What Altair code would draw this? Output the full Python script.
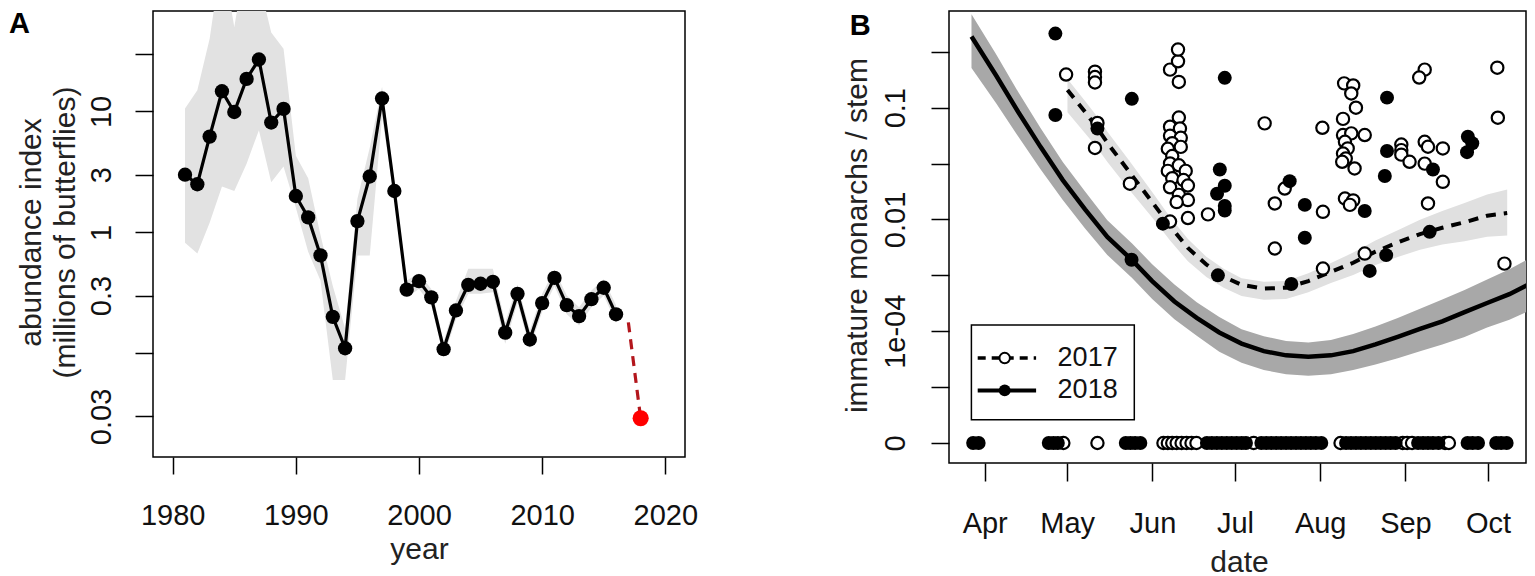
import altair as alt
import pandas as pd

FONT = "Liberation Sans"

# ---------------- Panel A data ----------------
years = list(range(1981, 2017))
abundance = [3.0, 2.5, 6.2, 14.7, 9.9, 18.6, 26.9, 8.1, 10.5, 2.0, 1.33, 0.645, 0.20, 0.11,
             1.24, 2.9, 12.8, 2.2, 0.336, 0.395, 0.29, 0.108, 0.226, 0.368, 0.376, 0.39,
             0.148, 0.31, 0.13, 0.26, 0.42, 0.25, 0.203, 0.28, 0.348, 0.21]
band_lo = [0.82, 0.67, 1.2, 2.4, 2.2, 3.7, 7.0, 2.6, 3.5, 1.6, 0.69, 0.40, 0.06, 0.06,
           0.645, 0.645, 9.0, 1.9, 0.29, 0.34, 0.25, 0.093, 0.19, 0.31, 0.31, 0.32,
           0.12, 0.26, 0.11, 0.22, 0.36, 0.21, 0.17, 0.24, 0.30, 0.18]
band_hi = [10.6, 15, 40, 200, 50, 200, 120, 45, 33, 4.3, 2.8, 0.95, 0.36, 0.16,
           1.9, 5.0, 16, 2.6, 0.40, 0.46, 0.34, 0.125, 0.27, 0.50, 0.50, 0.50,
           0.18, 0.37, 0.155, 0.31, 0.49, 0.30, 0.24, 0.33, 0.41, 0.25]
proj_years = [2017, 2018]
proj_vals = [0.18, 0.029]
last_year = [2018]
last_val = [0.029]

# ---------------- Panel B data ----------------
# fitted curves (day of year, immature monarchs per stem)
c18_day = [86.2, 95.1, 103.2, 111.3, 119.4, 127.5, 135.6, 144.6, 151.9, 160.0, 168.1, 176.3, 184.4,
           192.5, 200.6, 208.7, 216.9, 225.0, 233.1, 241.2, 249.3, 257.4, 265.5, 273.7, 281.8, 290.7]
c18_fit = [0.433, 0.195, 0.0915, 0.0446, 0.0225, 0.0123, 0.00485, 0.00187, 0.00079, 0.00034, 0.000174,
           9.5e-5, 6.0e-5, 4.4e-5, 3.7e-5, 3.5e-5, 3.7e-5, 4.4e-5, 5.8e-5, 7.9e-5, 1.1e-4, 1.5e-4,
           2.2e-4, 3.2e-4, 4.6e-4, 7.7e-4]
c18_lo = [0.227, 0.110, 0.0551, 0.0281, 0.0149, 0.00692, 0.00232, 0.000895, 0.000378, 0.000164, 8.3e-5,
          4.3e-5, 2.74e-5, 2.03e-5, 1.69e-5, 1.59e-5, 1.69e-5, 2.03e-5, 2.55e-5, 3.3e-5, 4.39e-5, 5.8e-5,
          7.9e-5, 0.000116, 0.000161, 0.000254]
c18_hi = [0.686, 0.302, 0.138, 0.0659, 0.0326, 0.0178, 0.00968, 0.00373, 0.00158, 0.000686, 0.000331,
          0.00018, 0.000109, 8.1e-5, 6.7e-5, 6.3e-5, 7.0e-5, 8.9e-5, 0.000122, 0.000173, 0.000252,
          0.000368, 0.000547, 0.00084, 0.00128, 0.00221]

c17_day = [121.1, 127.5, 131.6, 135.7, 143.8, 151.9, 158.4, 164.9, 171.6, 177.9, 184.4, 192.5, 200.6,
           208.7, 216.9, 225.0, 233.1, 241.2, 249.3, 257.4, 265.5, 273.7, 281.0]
c17_fit = [0.144, 0.0915, 0.0676, 0.0481, 0.0262, 0.0143, 0.00766, 0.00309, 0.00156, 0.000946, 0.000676,
           0.00058, 0.0006, 0.00079, 0.00115, 0.00168, 0.00265, 0.00387, 0.00547, 0.00711, 0.00891,
           0.0108, 0.0114]
c17_lo = [0.0908, 0.059, 0.0447, 0.0325, 0.0182, 0.0104, 0.00421, 0.00178, 0.000938, 0.000597, 0.000427,
          0.000366, 0.000378, 0.000499, 0.000728, 0.00101, 0.00153, 0.00213, 0.00287, 0.00356, 0.00407,
          0.00488, 0.00518]
c17_hi = [0.181, 0.115, 0.0851, 0.0605, 0.033, 0.0176, 0.0105, 0.00447, 0.00215, 0.00131, 0.000891,
          0.000766, 0.00079, 0.00109, 0.00167, 0.00255, 0.00421, 0.00643, 0.00991, 0.0119, 0.014,
          0.0167, 0.0185]

# observations 2018 (filled)
p18_day = [116.7, 116.7, 132.0, 144.5, 144.4, 155.8, 178.3, 176.5, 178.3, 175.5, 178.3, 178.3, 175.8,
           201.9, 207.4, 207.4, 202.5, 237.3, 237.3, 236.5, 229.2, 231.0, 237.0, 252.8, 254.0, 266.7,
           268.3, 266.4]
p18_val = [0.46, 0.086, 0.065, 0.12, 0.0019, 0.0084, 0.185, 0.028, 0.020, 0.017, 0.0132, 0.012, 0.001,
           0.022, 0.0135, 0.0047, 0.0007, 0.123, 0.041, 0.0245, 0.0119, 0.0012, 0.0023, 0.006, 0.028,
           0.055, 0.048, 0.040]
# 2018 stems with no immatures (value 0)
z18_day = [86.8, 88.8,
           114.3, 116.0, 117.6,
           142.3, 144.0, 145.7, 147.6,
           171.8, 173.6, 175.4, 177.2, 179.0, 180.8, 182.6, 184.4, 186.0,
           191.6, 193.4, 195.2, 197.0, 198.8, 200.6, 202.4, 204.2, 206.0, 207.8, 209.6, 211.4, 213.4,
           222.4, 224.2, 226.0, 227.8, 229.6, 231.4, 233.2, 235.0, 236.8, 238.6, 240.4,
           248.6, 250.4, 252.2, 254.0, 256.0,
           266.6, 268.4, 270.4,
           277.0, 278.8, 280.8]

# observations 2017 (open)
p17_day = [120.6, 131.1, 131.1, 131.1, 132.0, 131.1, 143.8,
           158.4, 161.3, 161.3, 161.6, 161.6, 158.4, 162.0, 158.4, 162.3, 159.2, 157.6, 162.3, 159.2,
           158.4, 161.6, 157.6, 164.1, 159.2, 163.3, 158.4, 164.9, 161.6, 164.9, 160.8, 158.4, 164.9,
           172.2,
           277.4, 277.6, 280.0, 251.0, 249.0,
           221.7, 225.0, 224.3, 226.0, 221.3, 213.8, 192.8,
           221.3, 224.3, 229.2, 222.0, 223.0, 221.3, 222.3, 221.0, 225.5,
           242.5, 242.5, 242.5, 245.5, 251.0, 252.2, 257.6, 251.0, 257.6, 252.2,
           196.5, 200.1, 214.0, 222.0, 225.0, 223.8, 196.5, 214.0, 229.2]
p17_val = [0.198, 0.21, 0.188, 0.168, 0.073, 0.0436, 0.0209,
           0.219, 0.26, 0.331, 0.17, 0.0817, 0.0676, 0.065, 0.056, 0.0538, 0.0481, 0.0429, 0.0446, 0.0369,
           0.0317, 0.0305, 0.0272, 0.0272, 0.0234, 0.0225, 0.0194, 0.0201, 0.0166, 0.0149, 0.0143, 0.00918,
           0.0103, 0.0111,
           0.228, 0.0813, 0.00162, 0.219, 0.186,
           0.165, 0.158, 0.134, 0.1, 0.0794, 0.0661, 0.0724,
           0.0569, 0.0589, 0.0569, 0.0495, 0.0432, 0.0389, 0.0351, 0.0328, 0.0286,
           0.0468, 0.0417, 0.038, 0.0328, 0.0495, 0.0447, 0.0432, 0.0316, 0.0217, 0.0139,
           0.0139, 0.0189, 0.0117, 0.0154, 0.0148, 0.0135, 0.00302, 0.00132, 0.00245]
# 2017 stems with no immatures (value 0)
z17_day = [119.6, 132.0, 156.0, 157.6, 159.2, 160.8, 162.6, 164.4, 166.2, 168.0,
           188.8, 220.4, 243.0, 244.6, 246.4, 258.4, 259.8]

legend_years = ["2017", "2018"]
month_ticks = [91, 121, 152, 182, 213, 244, 274]
month_names = ["Apr", "May", "Jun", "Jul", "Aug", "Sep", "Oct"]

# ---------------- Panel A chart ----------------
dfA = pd.DataFrame({"year": years, "abund": abundance, "lo": band_lo, "hi": band_hi})
dfProj = pd.DataFrame({"year": proj_years, "abund": proj_vals})
dfLast = pd.DataFrame({"year": last_year, "abund": last_val})

scxA = alt.Scale(domain=[1978.4, 2021.6], nice=False, zero=False)
scyA = alt.Scale(type="log", domain=[0.01386, 67.8], nice=False)
axxA = alt.Axis(values=[1980, 1990, 2000, 2010, 2020], format="d", title="year",
                tickSize=17, labelPadding=50, labelBaseline="alphabetic", labelFlush=False,
                titleX=266, titleY=101, titleBaseline="alphabetic", titleAlign="center")
axyA = alt.Axis(values=[0.03, 0.1, 0.3, 1, 3, 10, 30],
                labelExpr="(datum.value == 0.1 || datum.value == 30) ? '' : format(datum.value, '~g')",
                tickSize=18, labelAngle=270, labelAlign="center", labelBaseline="alphabetic",
                labelPadding=25, title=["abundance index", "(millions of butterflies)"],
                titleAngle=270, titleX=-113, titleY=221, titleAlign="center",
                titleBaseline="alphabetic", titleLineHeight=34)
xA = alt.X("year:Q", scale=scxA, axis=axxA)

bandA = alt.Chart(dfA).mark_area(color="#e2e2e2", clip=True).encode(
    x=xA, y=alt.Y("lo:Q", scale=scyA, axis=axyA), y2="hi:Q")
lineA = alt.Chart(dfA).mark_line(color="black", strokeWidth=3.2).encode(
    x=xA, y=alt.Y("abund:Q", scale=scyA, axis=axyA))
ptsA = alt.Chart(dfA).mark_circle(color="black", size=205, opacity=1).encode(
    x=xA, y=alt.Y("abund:Q", scale=scyA, axis=axyA))
projA = alt.Chart(dfProj).mark_line(color="#b3161c", strokeWidth=3.2, strokeDash=[10, 7]).encode(
    x=xA, y=alt.Y("abund:Q", scale=scyA, axis=axyA))
lastA = alt.Chart(dfLast).mark_circle(color="#ff0000", size=260, opacity=1).encode(
    x=xA, y=alt.Y("abund:Q", scale=scyA, axis=axyA))
labA = alt.Chart(pd.DataFrame({"t": ["A"]})).mark_text(
    font=FONT, fontSize=29, fontWeight="bold", align="left", baseline="alphabetic", color="black"
).encode(text="t:N", x=alt.value(-144), y=alt.value(22))

chartA = alt.layer(bandA, lineA, ptsA, projA, lastA, labA).properties(width=532, height=446)

# ---------------- Panel B chart ----------------
def uexpr(f):
    return (f"datum.{f} <= 0 ? 0 : (datum.{f} >= 0.01 ? 4 + log(datum.{f}) / LN10 "
            f": 3 + log(datum.{f}) / (2 * LN10))")

df18c = pd.DataFrame({"day": c18_day, "v": c18_fit, "lo": c18_lo, "hi": c18_hi})
df17c = pd.DataFrame({"day": c17_day, "v": c17_fit, "lo": c17_lo, "hi": c17_hi})
df18p = pd.DataFrame({"day": z18_day + p18_day, "v": [0.0] * len(z18_day) + p18_val})
df17p = pd.DataFrame({"day": z17_day + p17_day, "v": [0.0] * len(z17_day) + p17_val})

scxB = alt.Scale(domain=[78.02, 287.84], nice=False, zero=False)
scyB = alt.Scale(domain=[-0.179, 3.865], nice=False, zero=False)
axxB = alt.Axis(values=month_ticks,
                labelExpr="['" + "','".join(month_names) + "'][indexof(["
                          + ",".join(str(m) for m in month_ticks) + "], datum.value)]",
                title="date", tickSize=18, labelPadding=51, labelBaseline="alphabetic",
                labelFlush=False, titleX=290, titleY=108, titleBaseline="alphabetic",
                titleAlign="center")
axyB = alt.Axis(values=[0, 0.5, 1, 1.5, 2, 2.5, 3, 3.5],
                labelExpr="datum.value == 0 ? '0' : datum.value == 1 ? '1e-04' : "
                          "datum.value == 2 ? '0.01' : datum.value == 3 ? '0.1' : ''",
                tickSize=18, labelAngle=270, labelAlign="center", labelBaseline="alphabetic",
                labelPadding=27, title="immature monarchs / stem", titleAngle=270,
                titleX=-83, titleY=224, titleAlign="center", titleBaseline="alphabetic")
xB = alt.X("day:Q", scale=scxB, axis=axxB)

band18 = alt.Chart(df18c).transform_calculate(ulo=uexpr("lo"), uhi=uexpr("hi")).mark_area(
    color="#a8a8a8", clip=True).encode(x=xB, y=alt.Y("ulo:Q", scale=scyB, axis=axyB), y2="uhi:Q")
band17 = alt.Chart(df17c).transform_calculate(ulo=uexpr("lo"), uhi=uexpr("hi")).mark_area(
    color="#e0e0e0", clip=True).encode(x=xB, y=alt.Y("ulo:Q", scale=scyB, axis=axyB), y2="uhi:Q")
line18 = alt.Chart(df18c).transform_calculate(u=uexpr("v")).mark_line(
    color="black", strokeWidth=4.5, clip=True).encode(x=xB, y=alt.Y("u:Q", scale=scyB, axis=axyB))
line17 = alt.Chart(df17c).transform_calculate(u=uexpr("v")).mark_line(
    color="black", strokeWidth=4, strokeDash=[10, 8], clip=True).encode(
    x=xB, y=alt.Y("u:Q", scale=scyB, axis=axyB))
pts17 = alt.Chart(df17p).transform_calculate(u=uexpr("v")).mark_circle(
    fill="white", stroke="black", strokeWidth=2.2, size=150, opacity=1, fillOpacity=1).encode(
    x=xB, y=alt.Y("u:Q", scale=scyB, axis=axyB))
pts18 = alt.Chart(df18p).transform_calculate(u=uexpr("v")).mark_circle(
    color="black", size=195, opacity=1).encode(x=xB, y=alt.Y("u:Q", scale=scyB, axis=axyB))

# legend box
one = pd.DataFrame({"a": [0]})
legBox = alt.Chart(one).mark_rect(fill="white", stroke="black", strokeWidth=1.5).encode(
    x=alt.value(22.4), x2=alt.value(185.3), y=alt.value(314), y2=alt.value(408.7))
legL17 = alt.Chart(one).mark_rule(color="black", strokeWidth=3.5, strokeDash=[8, 6]).encode(
    x=alt.value(28.7), x2=alt.value(87.1), y=alt.value(347.1))
legL18 = alt.Chart(one).mark_rule(color="black", strokeWidth=4).encode(
    x=alt.value(28.7), x2=alt.value(87.1), y=alt.value(379.4))
legP17 = alt.Chart(one).mark_circle(fill="white", stroke="black", strokeWidth=2, size=110,
                                    opacity=1, fillOpacity=1).encode(
    x=alt.value(55.7), y=alt.value(347.1))
legP18 = alt.Chart(one).mark_circle(color="black", size=140, opacity=1).encode(
    x=alt.value(55.7), y=alt.value(379.4))
legT17 = alt.Chart(pd.DataFrame({"t": [legend_years[0]]})).mark_text(
    font=FONT, fontSize=27, align="left", baseline="middle", color="#111").encode(
    text="t:N", x=alt.value(108.6), y=alt.value(347.1))
legT18 = alt.Chart(pd.DataFrame({"t": [legend_years[1]]})).mark_text(
    font=FONT, fontSize=27, align="left", baseline="middle", color="#111").encode(
    text="t:N", x=alt.value(108.6), y=alt.value(379.4))
labB = alt.Chart(pd.DataFrame({"t": ["B"]})).mark_text(
    font=FONT, fontSize=29, fontWeight="bold", align="left", baseline="alphabetic", color="black"
).encode(text="t:N", x=alt.value(-99.3), y=alt.value(23.7))

chartB = alt.layer(band18, band17, line18, line17, pts17, pts18,
                   legBox, legL17, legL18, legP17, legP18, legT17, legT18, labB
                   ).properties(width=577, height=452)

chart = alt.hconcat(chartA, chartB, spacing=264, bounds="flush").properties(
    padding={"left": 0, "top": 1, "right": 0, "bottom": 0}
).configure(font=FONT).configure_view(stroke="black", strokeWidth=1.5).configure_axis(
    grid=False, domain=False, tickColor="black", tickWidth=1.5, labelColor="#111",
    titleColor="#222", labelFontSize=29, titleFontSize=30, titleFontWeight="normal",
    labelFont=FONT, titleFont=FONT, labelOverlap=False, labelBound=False)

chart.save("out.html", embed_options={"renderer": "svg", "actions": False})
